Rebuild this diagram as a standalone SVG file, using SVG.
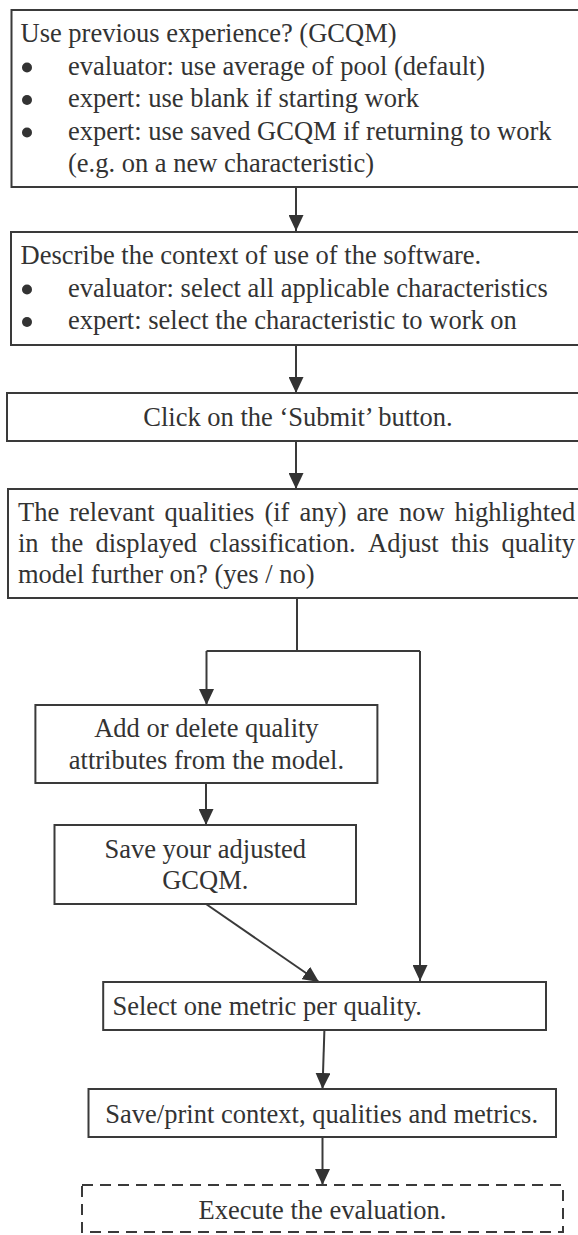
<svg xmlns="http://www.w3.org/2000/svg" width="578" height="1235" viewBox="0 0 578 1235">
<defs>
<style>
.box{fill:#fff;stroke:#3a3a3a;stroke-width:2}
.dash{fill:#fff;stroke:#3a3a3a;stroke-width:2;stroke-dasharray:11,7}
.t{font-family:"Liberation Serif","Times New Roman",serif;font-size:26.5px;fill:#333}
.c{text-anchor:middle}
.bul{fill:#333}
.ln{fill:none;stroke:#3a3a3a;stroke-width:2}
</style>
<marker id="ah" markerUnits="userSpaceOnUse" markerWidth="16" markerHeight="15" refX="16" refY="7.5" orient="auto">
<path d="M0,0 L16,7.5 L0,15 z" fill="#333"/>
</marker>
</defs>
<rect width="578" height="1235" fill="#fff"/>
<g id="connectors">
<line class="ln" x1="296" y1="187" x2="296" y2="231" marker-end="url(#ah)"/>
<line class="ln" x1="296" y1="345" x2="296" y2="393" marker-end="url(#ah)"/>
<line class="ln" x1="296" y1="441" x2="296" y2="489" marker-end="url(#ah)"/>
<polyline class="ln" points="297,598 297,651"/>
<polyline class="ln" points="206.5,651 420,651"/>
<line class="ln" x1="206.5" y1="651" x2="206.5" y2="705" marker-end="url(#ah)"/>
<line class="ln" x1="420" y1="651" x2="420" y2="981" marker-end="url(#ah)"/>
<line class="ln" x1="206" y1="783" x2="206" y2="825" marker-end="url(#ah)"/>
<line class="ln" x1="206" y1="904" x2="319" y2="982" marker-end="url(#ah)"/>
<line class="ln" x1="324.4" y1="1030" x2="322.5" y2="1089" marker-end="url(#ah)"/>
<line class="ln" x1="322.5" y1="1137" x2="322.5" y2="1185" marker-end="url(#ah)"/>
</g>
<g id="n1">
<rect class="box" x="11.5" y="10" width="580" height="177"/>
<text class="t" x="20.5" y="42">Use previous experience? (GCQM)</text>
<circle class="bul" cx="27" cy="67.5" r="5"/>
<circle class="bul" cx="27" cy="100" r="5"/>
<circle class="bul" cx="27" cy="132.5" r="5"/>
<text class="t" x="68" y="74.5">evaluator: use average of pool (default)</text>
<text class="t" x="68" y="107">expert: use blank if starting work</text>
<text class="t" x="68" y="139.5">expert: use saved GCQM if returning to work</text>
<text class="t" x="68" y="172">(e.g. on a new characteristic)</text>
</g>
<g id="n2">
<rect class="box" x="11" y="232" width="580" height="113"/>
<text class="t" x="20.5" y="264">Describe the context of use of the software.</text>
<circle class="bul" cx="27" cy="289.5" r="5"/>
<circle class="bul" cx="27" cy="322" r="5"/>
<text class="t" x="68" y="296.5">evaluator: select all applicable characteristics</text>
<text class="t" x="68" y="329">expert: select the characteristic to work on</text>
</g>
<g id="n3">
<rect class="box" x="7" y="393" width="585" height="48"/>
<text class="t c" x="298" y="425.5">Click on the ‘Submit’ button.</text>
</g>
<g id="n4">
<rect class="box" x="8" y="489" width="585" height="109"/>
<text class="t" y="521"><tspan x="18">The</tspan> <tspan x="69.2">relevant</tspan> <tspan x="164.6">qualities</tspan> <tspan x="264.4">(if</tspan> <tspan x="299.4">any)</tspan> <tspan x="356.5">are</tspan> <tspan x="398.9">now</tspan> <tspan x="454.5">highlighted</tspan></text>
<text class="t" y="552"><tspan x="18">in</tspan> <tspan x="50.8">the</tspan> <tspan x="95.4">displayed</tspan> <tspan x="209.3">classification.</tspan> <tspan x="368">Adjust</tspan> <tspan x="450.9">this</tspan> <tspan x="501.4">quality</tspan></text>
<text class="t" x="18" y="583">model further on? (yes / no)</text>
</g>
<g id="n5">
<rect class="box" x="35.4" y="705" width="342" height="78"/>
<text class="t c" x="206.4" y="737">Add or delete quality</text>
<text class="t c" x="206.4" y="768.5">attributes from the model.</text>
</g>
<g id="n6">
<rect class="box" x="54.5" y="825" width="301.5" height="79"/>
<text class="t c" x="205.3" y="858">Save your adjusted</text>
<text class="t c" x="205.3" y="889">GCQM.</text>
</g>
<g id="n7">
<rect class="box" x="103.2" y="982" width="442.8" height="48"/>
<text class="t" x="112.4" y="1015">Select one metric per quality.</text>
</g>
<g id="n8">
<rect class="box" x="88.5" y="1089" width="467.5" height="48"/>
<text class="t c" x="321.7" y="1122.5">Save/print context, qualities and metrics.</text>
</g>
<g id="n9">
<rect class="dash" x="82" y="1185" width="481" height="47"/>
<text class="t c" x="322.5" y="1219">Execute the evaluation.</text>
</g>
</svg>
